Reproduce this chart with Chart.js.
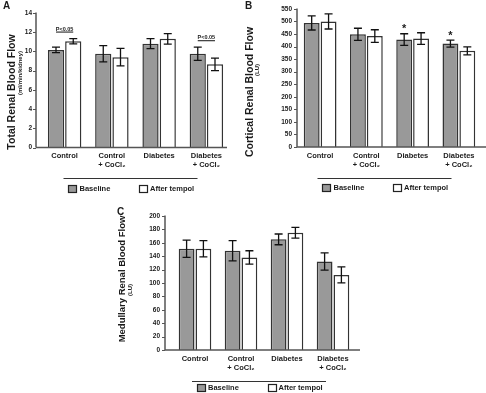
<!DOCTYPE html>
<html>
<head>
<meta charset="utf-8">
<script src="https://cdn.jsdelivr.net/npm/chart.js@4.4.1/dist/chart.umd.min.js"></script>
<style>
  html, body { margin: 0; padding: 0; background: #fff; }
  #wrap { position: relative; width: 486px; height: 393px; background: #fff; overflow: hidden; }
  canvas { position: absolute; }
</style>
</head>
<body>
<div id="wrap">
  <canvas id="cA" width="243" height="200" style="left:0;top:0"></canvas>
  <canvas id="cB" width="243" height="200" style="left:243px;top:0"></canvas>
  <canvas id="cC" width="260" height="193" style="left:110px;top:200px"></canvas>
</div>
<script>
// ---------- DATA ----------
const categories = [['Control'], ['Control', '+ CoCl\u2082'], ['Diabetes'], ['Diabetes', '+ CoCl\u2082']];
const seriesNames = ['Baseline', 'After tempol'];

const totalBaseline = [10.15, 9.75, 10.8, 9.75];
const totalBaselineErr = [0.28, 0.85, 0.52, 0.68];
const totalTempol = [11.05, 9.4, 11.3, 8.65];
const totalTempolErr = [0.28, 0.9, 0.55, 0.65];
const totalTicks = [0, 2, 4, 6, 8, 10, 12, 14];
const totalSignificance = ['P<0.05', '', '', 'P<0.05'];

const corticalBaseline = [494, 449, 428, 412];
const corticalBaselineErr = [28, 24, 23, 14];
const corticalTempol = [500, 442, 432, 383];
const corticalTempolErr = [30, 25, 23, 16];
const corticalTicks = [0, 50, 100, 150, 200, 250, 300, 350, 400, 450, 500, 550];
const corticalStars = ['', '', '*', '*'];

const medullaryBaseline = [151, 148, 165, 132];
const medullaryBaselineErr = [13, 15, 8, 13];
const medullaryTempol = [151, 138, 175, 112];
const medullaryTempolErr = [12, 10, 8, 12];
const medullaryTicks = [0, 20, 40, 60, 80, 100, 120, 140, 160, 180, 200];

// ---------- STYLE ----------
const FONT = "'Liberation Sans', Arial, sans-serif";
const GRAY = '#999999';
const EDGE = '#333333';
const TEXT = '#1a1a1a';
Chart.defaults.font.family = FONT;

function makePanel(id, p) {
  const cv = document.getElementById(id);
  const W = cv.width, H = cv.height;
  const plugin = {
    id: 'panel' + p.letter,
    afterDatasetsDraw(chart) {
      const ctx = chart.ctx, y = chart.scales.y;
      ctx.save();
      ctx.strokeStyle = '#111';
      ctx.lineWidth = 1.3;
      const tops = [];
      chart.data.datasets.forEach((ds, di) => {
        const meta = chart.getDatasetMeta(di);
        tops[di] = [];
        meta.data.forEach((bar, i) => {
          const v = ds.data[i], e = ds.errors[i];
          const yt = y.getPixelForValue(v + e), yb = y.getPixelForValue(v - e);
          tops[di][i] = yt;
          const x = bar.x;
          ctx.beginPath();
          ctx.moveTo(x, yt); ctx.lineTo(x, yb);
          ctx.moveTo(x - 4, yt); ctx.lineTo(x + 4, yt);
          ctx.moveTo(x - 4, yb); ctx.lineTo(x + 4, yb);
          ctx.stroke();
        });
      });
      const m0 = chart.getDatasetMeta(0).data, m1 = chart.getDatasetMeta(1).data;
      if (p.significance) {
        p.significance.forEach((lab, i) => {
          if (!lab) return;
          const top = Math.min(tops[0][i], tops[1][i]);
          const ly = top - 6.5;
          ctx.beginPath();
          ctx.lineWidth = 1;
          ctx.moveTo(m0[i].x, ly); ctx.lineTo(m1[i].x, ly);
          ctx.stroke();
          ctx.fillStyle = TEXT;
          ctx.font = 'bold 5.5px ' + FONT;
          ctx.textAlign = 'center';
          ctx.textBaseline = 'alphabetic';
          ctx.fillText(lab, (m0[i].x + m1[i].x) / 2, ly - 1.5);
        });
      }
      if (p.stars) {
        p.stars.forEach((s, i) => {
          if (!s) return;
          ctx.fillStyle = TEXT;
          ctx.font = 'bold 11px ' + FONT;
          ctx.textAlign = 'center';
          ctx.textBaseline = 'alphabetic';
          ctx.fillText(s, m0[i].x, tops[0][i] - 1.5);
        });
      }
      ctx.restore();
    },
    afterDraw(chart) {
      const ctx = chart.ctx, a = chart.chartArea, y = chart.scales.y;
      const ax = a.left - p.axisGap;
      ctx.save();
      // axes
      ctx.strokeStyle = '#555';
      ctx.lineWidth = 1.5;
      ctx.beginPath();
      ctx.moveTo(ax, a.top - 0.5); ctx.lineTo(ax, a.bottom);
      ctx.moveTo(ax, a.bottom); ctx.lineTo(p.xLineEnd, a.bottom);
      ctx.stroke();
      ctx.lineWidth = 1;
      ctx.beginPath();
      y.ticks.forEach(t => {
        const py = Math.round(y.getPixelForValue(t.value)) + 0.5;
        ctx.moveTo(ax - 3, py); ctx.lineTo(ax, py);
      });
      ctx.stroke();
      // titles
      ctx.fillStyle = TEXT;
      ctx.textAlign = 'center';
      ctx.textBaseline = 'middle';
      ctx.save();
      ctx.translate(p.titleX, p.titleY);
      ctx.rotate(-Math.PI / 2);
      ctx.font = 'bold ' + p.titleSize + 'px ' + FONT;
      ctx.fillText(p.title, 0, 0);
      ctx.restore();
      ctx.save();
      ctx.translate(p.subX, p.subY);
      ctx.rotate(-Math.PI / 2);
      ctx.font = 'bold 6px ' + FONT;
      ctx.fillText(p.subtitle, 0, 0);
      ctx.restore();
      // panel letter
      ctx.font = 'bold 10px ' + FONT;
      ctx.textAlign = 'left';
      ctx.textBaseline = 'top';
      ctx.fillText(p.letter, p.letterX, p.letterY);
      // legend
      const cx = (a.left + a.right) / 2 - 5;
      const x0 = cx - 67, ly = a.bottom + p.legendGap;
      ctx.strokeStyle = '#333';
      ctx.lineWidth = 1;
      ctx.beginPath();
      ctx.moveTo(x0, Math.round(ly) + 0.5); ctx.lineTo(x0 + 134, Math.round(ly) + 0.5);
      ctx.stroke();
      const offs = [[4.5, 16], [75.5, 86.5]];
      chart.data.datasets.forEach((ds, di) => {
        const bx = Math.round(x0 + offs[di][0]) + 0.5, by = Math.round(ly + p.legendBoxDy) + 0.5;
        ctx.fillStyle = ds.backgroundColor;
        ctx.fillRect(bx, by, 8, 7);
        ctx.strokeStyle = '#222';
        ctx.lineWidth = 1.2;
        ctx.strokeRect(bx, by, 8, 7);
        ctx.fillStyle = TEXT;
        ctx.font = 'bold 7.5px ' + FONT;
        ctx.textAlign = 'left';
        ctx.textBaseline = 'middle';
        ctx.fillText(ds.label, x0 + offs[di][1], by + 3.8);
      });
      ctx.restore();
    }
  };
  const dsStyle = { borderColor: EDGE, borderWidth: 1.5, barPercentage: 0.94, categoryPercentage: 0.73 };
  return new Chart(cv, {
    type: 'bar',
    data: {
      labels: categories,
      datasets: [
        Object.assign({ label: seriesNames[0], data: p.base, errors: p.baseErr, backgroundColor: GRAY }, dsStyle),
        Object.assign({ label: seriesNames[1], data: p.temp, errors: p.tempErr, backgroundColor: '#ffffff' }, dsStyle)
      ]
    },
    options: {
      responsive: false,
      animation: false,
      devicePixelRatio: 1,
      layout: { padding: { left: 0, right: W - p.area.right, top: p.area.top, bottom: 0 } },
      plugins: { legend: { display: false }, tooltip: { enabled: false } },
      scales: {
        x: {
          grid: { display: false, drawTicks: false }, border: { display: false },
          ticks: { color: TEXT, font: { size: 7.5, weight: 'bold', lineHeight: 1.2 }, padding: 4, maxRotation: 0, autoSkip: false },
          afterFit: s => { s.height = H - p.area.bottom; }
        },
        y: {
          min: p.ticks[0], max: p.ticks[p.ticks.length - 1],
          grid: { display: false, drawTicks: false }, border: { display: false },
          ticks: { stepSize: p.ticks[1] - p.ticks[0], color: TEXT, font: { size: 6.5, weight: 'bold' }, padding: p.tickPad },
          afterFit: s => { s.width = p.area.left; }
        }
      }
    },
    plugins: [plugin]
  });
}

makePanel('cA', {
  letter: 'A', letterX: 3, letterY: 1,
  base: totalBaseline, baseErr: totalBaselineErr, temp: totalTempol, tempErr: totalTempolErr,
  ticks: totalTicks, significance: totalSignificance,
  area: { left: 41, right: 230, top: 4, bottom: 147.5 }, axisGap: 5, tickPad: 9, xLineEnd: 227,
  legendGap: 30.5, legendBoxDy: 6.5,
  title: 'Total Renal Blood Flow', titleSize: 10.5, titleX: 12, titleY: 92,
  subtitle: '(ml/min/kidney)', subX: 20.5, subY: 73
});
makePanel('cB', {
  letter: 'B', letterX: 2, letterY: 1,
  base: corticalBaseline, baseErr: corticalBaselineErr, temp: corticalTempol, tempErr: corticalTempolErr,
  ticks: corticalTicks, stars: corticalStars,
  area: { left: 54, right: 239, top: 4.5, bottom: 147 }, axisGap: 0, tickPad: 5, xLineEnd: 243,
  legendGap: 30.5, legendBoxDy: 6.5,
  title: 'Cortical Renal Blood Flow', titleSize: 10.5, titleX: 7.5, titleY: 92,
  subtitle: '(LU)', subX: 14.5, subY: 70
});
makePanel('cC', {
  letter: 'C', letterX: 7, letterY: 7,
  base: medullaryBaseline, baseErr: medullaryBaselineErr, temp: medullaryTempol, tempErr: medullaryTempolErr,
  ticks: medullaryTicks,
  area: { left: 62, right: 246, top: 9.5, bottom: 150 }, axisGap: 7, tickPad: 12, xLineEnd: 250,
  legendGap: 30.5, legendBoxDy: 3.5,
  title: 'Medullary Renal Blood Flow', titleSize: 9.5, titleX: 12, titleY: 79,
  subtitle: '(LU)', subX: 20, subY: 90
});
</script>
</body>
</html>
